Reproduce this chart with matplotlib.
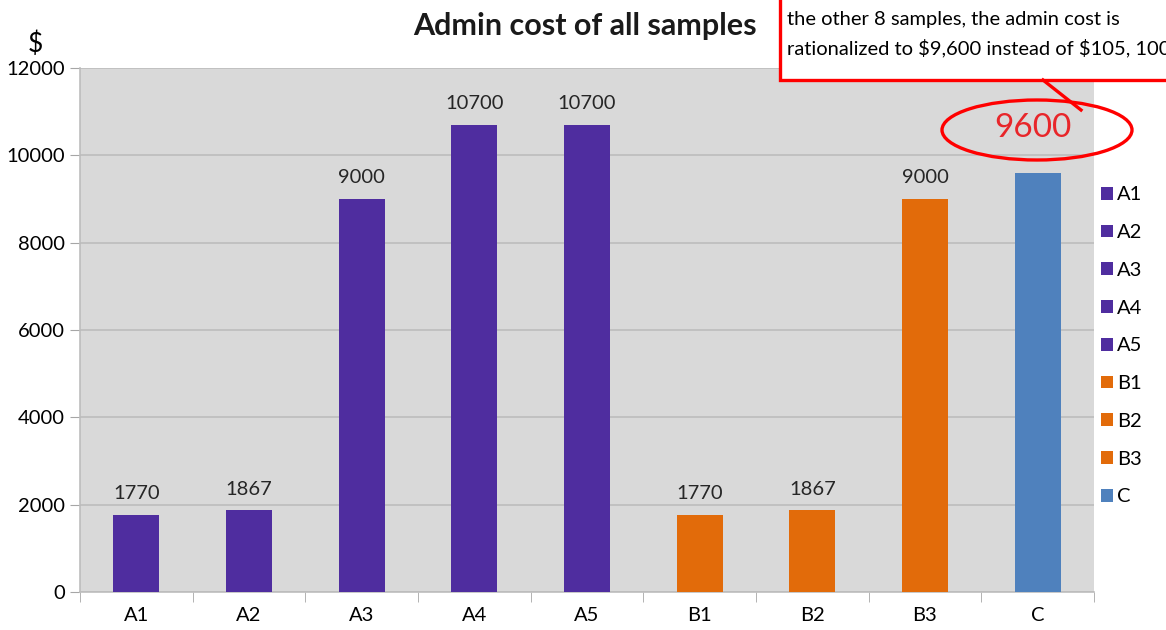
import matplotlib
matplotlib.use("Agg")
from matplotlib import pyplot as plt
from matplotlib import patches
import numpy as np

plt.rcParams['font.family'] = ['Lato', 'DejaVu Sans']
plt.rcParams['text.parse_math'] = False

# data
samples = ['A1', 'A2', 'A3', 'A4', 'A5', 'B1', 'B2', 'B3', 'C']
cost = [1770, 1867, 9000, 10700, 10700, 1770, 1867, 9000, 9600]
groups = ['A', 'A', 'A', 'A', 'A', 'B', 'B', 'B', 'C']
show_label = [True, True, True, True, True, True, True, True, False]
note_lines = ['the other 8 samples, the admin cost is',
              'rationalized to $9,600 instead of $105, 100']
note_value = '9600'

colours = {'A': '#4F2D9F', 'B': '#E26B0A', 'C': '#4F81BD'}

W, H = 1166, 630
fs = 14.5
fig = plt.figure(figsize=(W / 100, H / 100), dpi=100)
ax = fig.add_axes([80 / W, 1 - 592 / H, (1094 - 80) / W, (592 - 68) / H])
ax.set_facecolor('#D9D9D9')

x = np.arange(len(samples))
for i, (s, v, g) in enumerate(zip(samples, cost, groups)):
    ax.bar(x[i], v, width=0.41, color=colours[g], label=s, zorder=3)
    if show_label[i]:
        ax.text(x[i], v + 290, str(v), ha='center', va='bottom',
                fontsize=fs, color='#262626', zorder=4)

ax.set_xlim(-0.5, len(samples) - 0.5)
ax.set_ylim(0, 12000)
ax.set_yticks(np.arange(0, 12001, 2000))
ax.set_xticks(x)
ax.set_xticklabels(samples)
ax.set_xticks(np.arange(-0.5, len(samples), 1), minor=True)
ax.tick_params(axis='x', which='major', length=0, labelsize=fs, pad=11)
ax.tick_params(axis='x', which='minor', length=7, color='#A6A6A6', direction='out')
ax.tick_params(axis='y', length=7, color='#A6A6A6', labelsize=fs, pad=4)
ax.grid(axis='y', color='#BDBDBD', linewidth=1.2, zorder=1)
for side in ['top', 'right']:
    ax.spines[side].set_visible(False)
for side in ['left', 'bottom']:
    ax.spines[side].set_color('#BDBDBD')
    ax.spines[side].set_linewidth(1.2)

ax.legend(loc='upper left', bbox_to_anchor=(0.995, 0.797), frameon=False,
          fontsize=fs, handlelength=0.6, handleheight=0.6,
          handletextpad=0.2, labelspacing=1.03, borderaxespad=0.2)

fig.text(585 / W, 1 - 26 / H, 'Admin cost of all samples', ha='center',
         va='center', fontsize=22, fontweight='bold', color='#1a1a1a')
fig.text(35 / W, 1 - 44 / H, '$', ha='center', va='center', fontsize=19)

# callout box at the top right, cut off by the figure edge
box = patches.Rectangle((780 / W, 1 - 80 / H), 420 / W, 120 / H,
                        transform=fig.transFigure, facecolor='white',
                        edgecolor='red', linewidth=2.4, clip_on=False)
fig.add_artist(box)
fig.text(787 / W, 1 - 19 / H, note_lines[0], ha='left', va='center',
         fontsize=fs)
fig.text(787 / W, 1 - 48 / H, note_lines[1], ha='left', va='center',
         fontsize=fs)
fig.add_artist(plt.Line2D([1043 / W, 1081 / W], [1 - 80 / H, 1 - 110 / H],
                          transform=fig.transFigure, color='red', linewidth=2.4))
ell = patches.Ellipse((1037 / W, 1 - 130 / H), 190 / W, 60 / H,
                      transform=fig.transFigure, facecolor='none',
                      edgecolor='red', linewidth=2.4)
fig.add_artist(ell)
fig.text(1033 / W, 1 - 128 / H, note_value, ha='center', va='center',
         fontsize=24, color='#E8262A')

fig.savefig('out.png', dpi=100)
